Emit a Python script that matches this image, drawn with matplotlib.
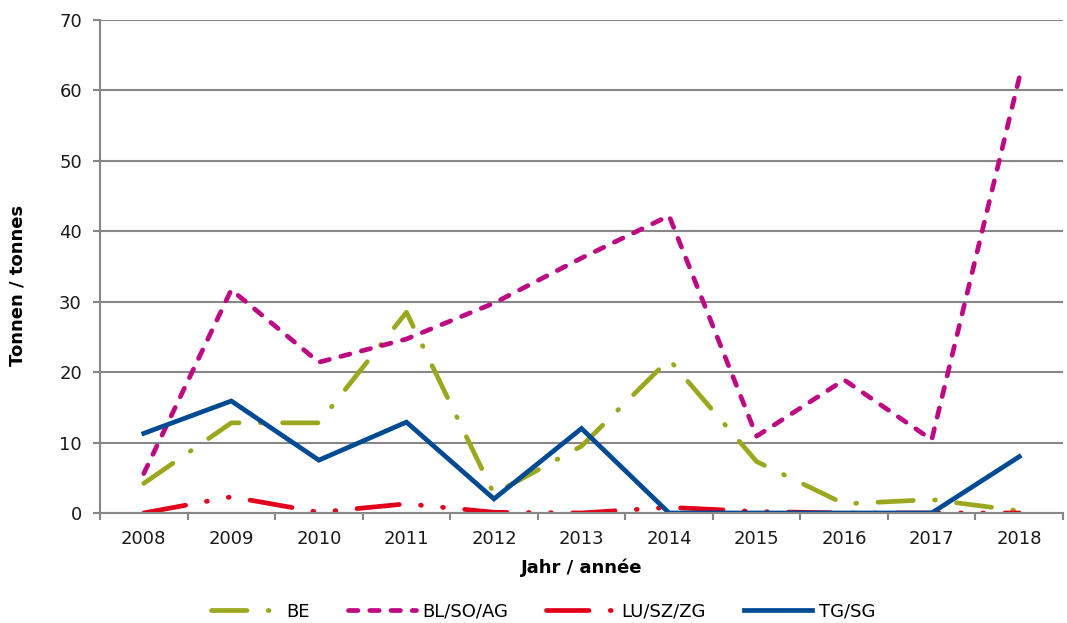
import matplotlib
matplotlib.use("Agg")
import matplotlib.pyplot as plt
import numpy as np

plt.rcParams['font.family'] = ['DejaVu Sans']

years = ['2008', '2009', '2010', '2011', '2012', '2013', '2014', '2015', '2016', '2017', '2018']
be = [4.2, 12.8, 12.8, 28.5, 2.7, 9.5, 21.8, 7.3, 1.3, 1.9, 0.3]
bl_so_ag = [5.6, 31.7, 21.4, 24.7, 29.8, 36.2, 42.2, 10.9, 18.9, 10.4, 61.8]
lu_sz_zg = [0.0, 2.3, 0.1, 1.3, 0.1, 0.0, 0.8, 0.2, 0.0, 0.0, 0.0]
tg_sg = [11.3, 15.9, 7.5, 12.9, 2.0, 12.0, 0.0, 0.0, 0.0, 0.0, 8.0]

series_names = ['BE', 'BL/SO/AG', 'LU/SZ/ZG', 'TG/SG']
colors = ['#9BA81F', '#BE0A82', '#E3001B', '#004A93']

fig = plt.figure(figsize=(10.67, 6.23), dpi=100)
ax = fig.add_axes([0.0937, 0.1766, 0.9026, 0.7913])

x = np.arange(len(years))
lw = 3.4
l1, = ax.plot(x, be, color=colors[0], lw=lw, dashes=(7.5, 4.5, 0.2, 4.5),
              dash_capstyle='round', solid_joinstyle='round', label=series_names[0])
l2, = ax.plot(x, bl_so_ag, color=colors[1], lw=lw, dashes=(2.0, 2.5),
              dash_capstyle='round', label=series_names[1])
l3, = ax.plot(x, lu_sz_zg, color=colors[2], lw=lw, dashes=(9, 4.5, 0.2, 4.5, 0.2, 4.5),
              dash_capstyle='round', label=series_names[2])
l4, = ax.plot(x, tg_sg, color=colors[3], lw=lw, solid_joinstyle='miter', label=series_names[3])

ax.set_xlim(-0.5, 10.5)
ax.set_ylim(0, 70)
ax.set_yticks(range(0, 71, 10))
ax.set_xticks(x)
ax.set_xticklabels(years)
ax.set_xticks(np.arange(-0.5, 11, 1), minor=True)
ax.tick_params(axis='x', which='major', length=0, labelsize=13, pad=12, colors='#1a1a1a')
ax.tick_params(axis='x', which='minor', length=5, width=1.5, color='#878787')
ax.tick_params(axis='y', length=5, width=1.5, color='#878787', labelsize=13, pad=8,
               labelcolor='#1a1a1a')

ax.grid(axis='y', color='#878787', lw=1.5)
ax.set_axisbelow(True)
for s in ['top', 'right']:
    ax.spines[s].set_visible(False)
for s in ['left', 'bottom']:
    ax.spines[s].set_color('#878787')
    ax.spines[s].set_linewidth(1.5)

ax.set_ylabel('Tonnen / tonnes', fontsize=13, fontweight='bold')
ax.yaxis.set_label_coords(-0.076, 0.462)
ax.set_xlabel('Jahr / année', fontsize=13, fontweight='bold', labelpad=8)

fig.legend(handles=[l1, l2, l3, l4], loc='center', bbox_to_anchor=(0.509, 0.018),
           ncol=4, frameon=False, fontsize=13, handlelength=3.8, handletextpad=0.35,
           columnspacing=2.1, borderpad=0.1)

fig.savefig('out.png', dpi=100)
